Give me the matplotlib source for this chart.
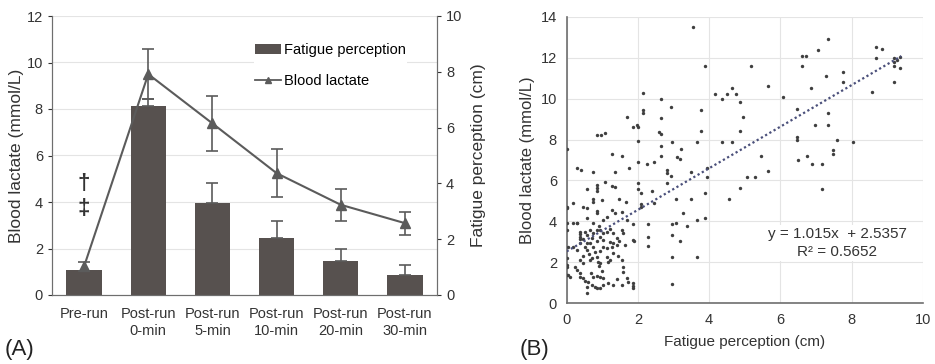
import numpy as np
import matplotlib.pyplot as plt
from matplotlib.lines import Line2D

plt.rcParams['font.family'] = ['Liberation Sans', 'DejaVu Sans']

# Panel A data
stages = ["Pre-run", "Post-run\n0-min", "Post-run\n5-min", "Post-run\n10-min", "Post-run\n20-min", "Post-run\n30-min"]
fatigue = [0.88, 6.77, 3.31, 2.06, 1.23, 0.73]
fatigue_sd = [0.0, 0.25, 0.72, 0.61, 0.42, 0.33]
lactate = [1.23, 9.5, 7.38, 5.24, 3.88, 3.09]
lactate_sd = [0.21, 1.07, 1.2, 1.02, 0.7, 0.5]

# Panel B data (fatigue perception cm, blood lactate mmol/L)
fatigue_x = [
    3.54, 3.89, 5.17, 5.66, 6.07, 6.6, 6.72, 6.6, 7.07, 7.35, 7.28, 7.76, 7.76, 6.86, 6.46,
    7.35, 6.98, 7.35, 6.46, 6.46, 7.58, 8.05, 7.47, 7.47, 6.49, 6.76, 6.88, 7.16, 7.16,
    8.68, 8.87, 8.68, 9.2, 9.2, 9.28, 9.18, 9.36, 9.18, 9.36, 8.57,
    4.17, 4.35, 4.49, 4.65, 4.76, 4.87, 4.94, 4.87, 4.35, 4.65, 5.45, 4.87, 5.06, 5.29, 5.66, 4.57,
    3.77, 3.77, 3.67, 3.21, 3.09, 3.18, 2.97, 2.94, 2.66, 2.66, 2.66, 2.66, 2.6, 2.66, 2.45, 2.25,
    2.15, 2.15, 2.15, 1.99, 1.99, 1.99, 1.99, 1.99, 2.08, 2.08, 2.08, 2.39, 2.45, 2.27, 2.27, 2.27,
    2.81, 2.81, 2.81, 2.94, 3.07, 2.97, 3.07, 2.97, 3.18, 3.26, 3.37, 3.48, 3.48, 3.67, 3.89, 3.89,
    3.95, 3.95, 2.97, 2.97, 3.67,
    0.0, 0.3, 0.39, 0.75, 0.84, 0.96, 1.08, 1.26, 1.36, 1.08, 0.84, 0.84, 0.84, 0.58, 1.26, 1.36,
    1.47, 1.54, 1.69, 1.87, 1.97, 1.76, 1.67, 0.0, 0.0, 0.17, 0.47, 0.58, 0.75, 0.75, 0.98, 0.84,
    0.84, 1.26, 1.36, 1.54, 1.69, 1.87, 0.0, 0.0, 0.17, 0.28, 0.37, 0.37, 0.37, 0.37, 0.37, 0.51,
    0.58, 0.66, 0.75, 0.84, 0.94, 0.94, 1.03, 1.03, 0.84, 0.66, 0.75, 0.51, 0.58, 0.28, 0.17, 0.05,
    0.0, 0.0, 0.0, 0.0, 0.05, 0.09, 0.23, 0.28, 0.37, 0.45, 0.37, 0.37, 0.47, 0.58, 0.58, 0.7,
    0.8, 0.84, 0.75, 0.84, 0.94, 1.03, 0.94, 1.03, 1.17, 1.31, 1.4, 0.66, 0.84, 0.94, 1.12, 1.22,
    1.31, 1.12, 1.26, 1.4, 1.03, 0.94, 1.4, 1.48, 1.54, 1.59, 1.57, 1.69, 1.73, 1.87, 1.87, 1.87,
    1.54, 1.12, 1.22, 1.31, 1.22, 1.31, 1.54, 1.57, 1.87, 1.89, 1.64, 0.56, 0.47, 1.03, 1.12, 0.92,
    0.75, 0.58, 0.45, 0.62, 0.7, 0.88, 1.0, 0.52, 0.68, 0.8, 0.9, 0.6, 0.72, 1.15, 1.45, 0.3,
]
lactate_y = [
    13.5, 11.6, 11.6, 10.6, 10.1, 12.1, 12.1, 11.6, 12.35, 12.9, 11.1, 11.3, 10.8, 10.5, 9.5,
    9.3, 8.7, 8.7, 8.1, 8.0, 8.0, 7.9, 7.5, 7.3, 7.0, 7.2, 6.8, 6.8, 5.57,
    12.5, 12.4, 12.0, 12.0, 11.8, 11.9, 11.6, 11.5, 10.8, 12.05, 10.3,
    10.2, 10.0, 10.2, 10.5, 10.2, 9.85, 9.1, 8.4, 7.9, 7.9, 7.2, 5.65, 6.19, 6.19, 6.47, 5.1,
    9.45, 8.4, 7.9, 7.54, 7.13, 7.04, 7.9, 9.6, 10.0, 9.04, 7.7, 7.2, 8.35, 8.27, 6.89, 6.8,
    10.26, 9.45, 9.3, 8.6, 7.95, 6.89, 5.9, 5.6, 5.4, 4.85, 4.72, 5.49, 4.9, 3.88, 3.26, 2.8,
    6.38, 5.9, 6.5, 6.22, 5.08, 3.88, 3.94, 3.34, 3.06, 4.4, 3.78, 5.08, 6.43, 4.07, 4.15, 5.37,
    6.6, 6.19, 2.28, 0.94, 2.28,
    7.54, 6.6, 6.5, 6.4, 8.22, 8.22, 8.34, 7.3, 6.4, 5.94, 5.8, 5.65, 5.5, 5.57, 5.73, 5.7,
    5.08, 7.2, 9.09, 8.63, 8.7, 6.6, 4.97, 4.72, 4.64, 4.89, 4.72, 4.64, 5.08, 4.97, 5.05, 4.5,
    4.4, 4.56, 4.4, 4.45, 4.07, 3.88, 3.94, 3.58, 3.94, 3.94, 3.5, 3.39, 3.26, 3.13, 2.96, 3.5,
    3.34, 3.58, 3.42, 3.58, 3.58, 3.26, 3.42, 3.1, 3.06, 2.93, 2.77, 2.77, 2.61, 2.61, 2.77, 2.77,
    2.2, 1.87, 1.79, 1.38, 1.38, 1.3, 1.79, 1.63, 2.12, 1.95, 1.46, 1.3, 1.22, 0.81, 0.49, 0.9,
    0.81, 0.73, 1.3, 1.34, 1.27, 1.22, 0.73, 0.9, 0.98, 0.9, 1.17, 2.12, 2.28, 1.95, 2.28, 2.12,
    2.44, 2.69, 2.77, 2.85, 2.77, 2.57, 3.18, 3.02, 2.12, 1.79, 1.54, 1.22, 1.06, 0.98, 0.85, 0.73,
    0.9, 3.5, 3.62, 3.42, 3.01, 2.93, 3.58, 3.42, 3.1, 3.02, 2.85, 2.93, 3.13, 4.07, 4.23, 3.78,
    3.91, 4.15, 2.3, 2.4, 2.2, 2.0, 1.6, 1.1, 1.5, 2.5, 1.8, 1.05, 3.2, 2.0, 2.3, 3.9,
]
slope, intercept = 1.015, 2.5357
fit_x = [0.0, 9.4]

bar_color = "#57514f"
line_color = "#5b5b5b"
grid_color = "#e4e4e4"
spine_color = "#6e6e6e"
text_color = "#333333"

fig = plt.figure(figsize=(9.35, 3.64), dpi=100)

# ---------- Panel A ----------
axA = fig.add_axes([52/935, 1 - 295/364, (437-52)/935, (295-16)/364])
axB2 = axA.twinx()
x = np.arange(len(stages))

axA.set_zorder(axB2.get_zorder() + 1)
axA.patch.set_visible(False)

bars = axB2.bar(x, fatigue, width=0.55, color=bar_color, zorder=2)
axB2.errorbar(x[1:], fatigue[1:], yerr=[[0]*5, fatigue_sd[1:]], fmt="none",
              ecolor=line_color, elinewidth=1.2, capsize=4, capthick=1.2, zorder=3)
axB2.set_ylim(0, 10)
axB2.set_yticks(range(0, 11, 2))
axB2.set_ylabel("Fatigue perception (cm)", fontsize=12.5, color=text_color, labelpad=6)

axA.errorbar(x, lactate, yerr=lactate_sd, color=line_color, marker="^", markersize=6.5,
             linewidth=1.5, ecolor=line_color, elinewidth=1.2, capsize=4, capthick=1.2, zorder=4)
axA.set_ylim(0, 12)
axA.set_xlim(-0.5, 5.5)
axA.set_yticks(range(0, 13, 2))
axA.set_xticks(x)
axA.set_xticklabels(stages, fontsize=10.5)
axA.set_ylabel("Blood lactate (mmol/L)", fontsize=12.5, color=text_color, labelpad=2)

for v in range(2, 13, 2):
    axB2.axhline(v * 10 / 12, color=grid_color, linewidth=0.8, zorder=0)

axA.text(0, 4.8, "\u2020", ha="center", va="center", fontsize=16, fontweight="bold", color=text_color)
axA.text(0, 3.73, "\u2021", ha="center", va="center", fontsize=16, fontweight="bold", color=text_color)

for ax in (axA, axB2):
    ax.spines["top"].set_visible(False)
    for s in ("left", "right", "bottom"):
        ax.spines[s].set_color(spine_color)
    ax.tick_params(labelsize=10.5, colors=text_color, length=3)
axA.tick_params(axis="x", length=0, pad=9)

lac_handle = Line2D([], [], color=line_color, marker="^", markersize=5, linewidth=1.3)
leg = axA.legend([bars, lac_handle], ["Fatigue perception", "Blood lactate"], loc="upper left",
                 bbox_to_anchor=(0.505, 0.935), frameon=True, fontsize=10.5, handlelength=1.8,
                 handletextpad=0.15, labelspacing=1.15, borderpad=0.1)
leg.get_frame().set_edgecolor("none")
leg.get_frame().set_facecolor("white")
leg.get_frame().set_alpha(1)

fig.text(5/935, 1 - 350/364, "(A)", fontsize=16, va="center", ha="left", color="#222222")

# ---------- Panel B ----------
axS = fig.add_axes([566.7/935, 1 - 303.3/364, (922.7-566.7)/935, (303.3-16.7)/364])
axS.scatter(fatigue_x, lactate_y, s=6, color="#3f3f3f", zorder=3, linewidths=0)
fit_y = [slope * v + intercept for v in fit_x]
axS.plot(fit_x, fit_y, linestyle=(0, (1, 1.2)), color="#4a4f7a", linewidth=1.6, zorder=4)
axS.set_xlim(0, 10)
axS.set_ylim(0, 14)
axS.set_xticks(range(0, 11, 2))
axS.set_yticks(range(0, 15, 2))
axS.grid(True, color=grid_color, linewidth=0.8, zorder=0)
axS.set_axisbelow(True)
for s in ("top", "right"):
    axS.spines[s].set_visible(False)
for s in ("left", "bottom"):
    axS.spines[s].set_color(spine_color)
    axS.spines[s].set_linewidth(1.2)
axS.tick_params(labelsize=10.5, colors=text_color, length=0, pad=7)
axS.set_xlabel("Fatigue perception (cm)", fontsize=11, color=text_color, labelpad=6)
axS.set_ylabel("Blood lactate (mmol/L)", fontsize=12, color=text_color, labelpad=4)
axS.text(7.6, 2.95, "y = 1.015x  + 2.5357\nR\u00b2 = 0.5652", ha="center", va="center",
         fontsize=11, color=text_color, linespacing=1.3,
         bbox=dict(facecolor="white", edgecolor="none", pad=2), zorder=5)

fig.text(520/935, 1 - 350/364, "(B)", fontsize=16, va="center", ha="left", color="#222222")

fig.savefig("out.png", dpi=100)
